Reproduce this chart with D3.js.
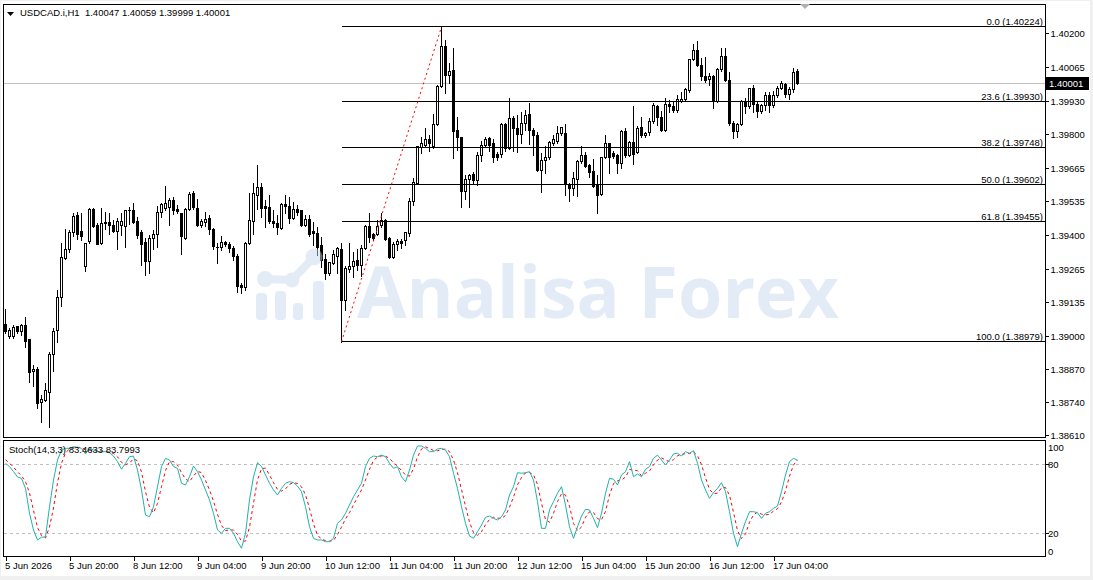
<!DOCTYPE html>
<html><head><meta charset="utf-8">
<script src="https://cdn.jsdelivr.net/npm/d3@7/dist/d3.min.js"></script>
<style>
html,body{margin:0;padding:0;background:#fff;overflow:hidden}
svg text{font-family:"Liberation Sans",Arial,sans-serif;font-size:9.5px;fill:#000}
</style></head><body>
<svg id="chart" width="1093" height="580"></svg>
<script>
// ---------------- data ----------------
const symbolTitle = "USDCAD.i,H1  1.40047 1.40059 1.39999 1.40001";
const stochTitle = "Stoch(14,3,3) 83.4633 83.7993";

const opens = [1.39048,1.39001,1.38999,1.39039,1.39018,1.39042,1.38986,1.38860,1.38871,1.38739,1.38748,1.38779,1.38930,1.39022,1.39155,1.39309,1.39342,1.39410,1.39480,1.39414,
1.39278,1.39374,1.39502,1.39440,1.39368,1.39447,1.39450,1.39440,1.39414,1.39440,1.39434,1.39496,1.39497,1.39454,1.39410,1.39370,1.39295,1.39388,1.39405,1.39489,
1.39506,1.39511,1.39539,1.39500,1.39487,1.39388,1.39502,1.39566,1.39506,1.39440,1.39452,1.39467,1.39424,1.39353,1.39352,1.39372,1.39365,1.39348,1.39315,1.39200,
1.39193,1.39368,1.39454,1.39559,1.39590,1.39513,1.39511,1.39456,1.39447,1.39428,1.39522,1.39513,1.39467,1.39500,1.39497,1.39440,1.39463,1.39414,1.39408,1.39358,
1.39305,1.39250,1.39289,1.39315,1.39345,1.39141,1.39263,1.39278,1.39299,1.39282,1.39348,1.39436,1.39405,1.39405,1.39440,1.39460,1.39388,1.39313,1.39365,1.39377,
1.39381,1.39408,1.39533,1.39606,1.39746,1.39757,1.39777,1.39753,1.39840,1.39990,1.40148,1.40030,1.40051,1.39814,1.39787,1.39572,1.39621,1.39642,1.39616,1.39714,
1.39757,1.39784,1.39761,1.39721,1.39721,1.39840,1.39744,1.39863,1.39823,1.39797,1.39843,1.39876,1.39816,1.39793,1.39658,1.39695,1.39708,1.39764,1.39770,1.39801,
1.39803,1.39599,1.39586,1.39621,1.39691,1.39714,1.39674,1.39651,1.39595,1.39563,1.39708,1.39761,1.39724,1.39714,1.39685,1.39810,1.39717,1.39766,1.39727,1.39827,
1.39793,1.39806,1.39849,1.39911,1.39864,1.39816,1.39917,1.39909,1.39893,1.39931,1.39935,1.39973,1.40096,1.40131,1.40073,1.40029,1.40017,1.40026,1.39929,1.40054,
1.40109,1.40014,1.39842,1.39810,1.39838,1.39928,1.39909,1.39979,1.39917,1.39888,1.39915,1.39951,1.39913,1.39951,1.39981,1.39998,1.39958,1.39975,1.40047];

const highs = [1.39107,1.39032,1.39045,1.39042,1.39048,1.39078,1.38990,1.38887,1.38878,1.38768,1.38817,1.38939,1.39032,1.39184,1.39370,1.39423,1.39421,1.39487,1.39493,1.39489,
1.39370,1.39506,1.39506,1.39447,1.39506,1.39493,1.39487,1.39460,1.39469,1.39487,1.39500,1.39511,1.39526,1.39473,1.39421,1.39388,1.39401,1.39421,1.39516,1.39529,
1.39595,1.39546,1.39550,1.39520,1.39489,1.39506,1.39572,1.39576,1.39542,1.39463,1.39493,1.39480,1.39428,1.39368,1.39397,1.39377,1.39374,1.39358,1.39325,1.39210,
1.39374,1.39566,1.39606,1.39678,1.39606,1.39539,1.39559,1.39500,1.39480,1.39526,1.39559,1.39553,1.39533,1.39520,1.39500,1.39480,1.39480,1.39454,1.39432,1.39394,
1.39326,1.39295,1.39342,1.39352,1.39368,1.39278,1.39368,1.39335,1.39345,1.39361,1.39440,1.39489,1.39410,1.39460,1.39489,1.39463,1.39394,1.39374,1.39384,1.39384,
1.39414,1.39546,1.39625,1.39753,1.39790,1.39823,1.39797,1.39880,1.39994,1.40224,1.40172,1.40083,1.40139,1.39867,1.39790,1.39638,1.39642,1.39651,1.39731,1.39774,
1.39790,1.39790,1.39780,1.39731,1.39843,1.39843,1.39942,1.39872,1.39876,1.39889,1.39895,1.39924,1.39823,1.39810,1.39727,1.39753,1.39774,1.39797,1.39832,1.39829,
1.39840,1.39606,1.39651,1.39698,1.39753,1.39731,1.39682,1.39700,1.39638,1.39711,1.39797,1.39764,1.39734,1.39721,1.39816,1.39823,1.39774,1.39911,1.39832,1.39869,
1.39810,1.39863,1.39924,1.39915,1.39891,1.39942,1.39935,1.39927,1.39955,1.39967,1.39982,1.40097,1.40155,1.40168,1.40102,1.40106,1.40041,1.40034,1.40060,1.40142,
1.40142,1.40045,1.39852,1.39843,1.39935,1.39942,1.39982,1.39994,1.39928,1.39919,1.39968,1.39968,1.39971,1.39990,1.40010,1.40001,1.39988,1.40060,1.40059];

const lows = [1.39012,1.38992,1.38995,1.39014,1.39006,1.38957,1.38821,1.38802,1.38715,1.38662,1.38745,1.38642,1.38864,1.38979,1.39120,1.39305,1.39335,1.39397,1.39385,1.39381,
1.39260,1.39370,1.39433,1.39365,1.39365,1.39424,1.39405,1.39411,1.39345,1.39401,1.39355,1.39445,1.39447,1.39388,1.39282,1.39243,1.39250,1.39345,1.39355,1.39471,
1.39500,1.39440,1.39484,1.39489,1.39326,1.39385,1.39500,1.39502,1.39436,1.39433,1.39436,1.39405,1.39345,1.39289,1.39342,1.39358,1.39335,1.39302,1.39177,1.39173,
1.39184,1.39365,1.39405,1.39502,1.39471,1.39433,1.39447,1.39433,1.39405,1.39425,1.39487,1.39447,1.39463,1.39480,1.39436,1.39436,1.39397,1.39361,1.39322,1.39276,
1.39226,1.39243,1.39286,1.39250,1.38979,1.39104,1.39256,1.39236,1.39263,1.39239,1.39345,1.39374,1.39381,1.39401,1.39433,1.39381,1.39309,1.39309,1.39342,1.39349,
1.39361,1.39397,1.39520,1.39603,1.39724,1.39748,1.39734,1.39744,1.39836,1.39988,1.39964,1.40003,1.39704,1.39737,1.39513,1.39542,1.39511,1.39606,1.39599,1.39695,
1.39753,1.39734,1.39691,1.39698,1.39711,1.39734,1.39740,1.39734,1.39731,1.39766,1.39816,1.39761,1.39717,1.39655,1.39572,1.39647,1.39700,1.39757,1.39766,1.39797,
1.39559,1.39537,1.39559,1.39555,1.39685,1.39669,1.39632,1.39589,1.39489,1.39559,1.39704,1.39647,1.39704,1.39647,1.39665,1.39711,1.39714,1.39682,1.39724,1.39790,
1.39790,1.39797,1.39845,1.39836,1.39812,1.39812,1.39888,1.39888,1.39888,1.39927,1.39931,1.39968,1.40093,1.40069,1.40014,1.40006,1.39994,1.39905,1.39927,1.40050,
1.40010,1.39836,1.39786,1.39790,1.39836,1.39882,1.39903,1.39888,1.39869,1.39884,1.39895,1.39889,1.39908,1.39947,1.39979,1.39948,1.39939,1.39965,1.39999];

const closes = [1.39018,1.39025,1.39036,1.39018,1.39042,1.38979,1.38858,1.38871,1.38735,1.38751,1.38785,1.38930,1.39021,1.39155,1.39313,1.39344,1.39410,1.39476,1.39405,1.39394,
1.39368,1.39502,1.39436,1.39365,1.39447,1.39449,1.39438,1.39414,1.39454,1.39454,1.39497,1.39499,1.39450,1.39401,1.39365,1.39295,1.39388,1.39405,1.39489,1.39520,
1.39524,1.39539,1.39497,1.39493,1.39394,1.39502,1.39563,1.39509,1.39440,1.39456,1.39463,1.39424,1.39355,1.39350,1.39372,1.39364,1.39348,1.39315,1.39197,1.39194,
1.39368,1.39458,1.39566,1.39590,1.39506,1.39505,1.39454,1.39447,1.39430,1.39522,1.39513,1.39467,1.39500,1.39489,1.39440,1.39463,1.39405,1.39408,1.39352,1.39302,
1.39250,1.39291,1.39322,1.39348,1.39141,1.39269,1.39278,1.39295,1.39282,1.39348,1.39436,1.39392,1.39388,1.39436,1.39460,1.39385,1.39313,1.39365,1.39377,1.39369,
1.39410,1.39533,1.39608,1.39750,1.39761,1.39777,1.39761,1.39840,1.39990,1.40148,1.40030,1.40047,1.39810,1.39787,1.39572,1.39621,1.39637,1.39616,1.39714,1.39757,
1.39780,1.39757,1.39708,1.39708,1.39840,1.39744,1.39863,1.39823,1.39797,1.39843,1.39872,1.39814,1.39793,1.39658,1.39695,1.39708,1.39766,1.39777,1.39801,1.39827,
1.39599,1.39586,1.39625,1.39691,1.39714,1.39671,1.39647,1.39592,1.39559,1.39708,1.39761,1.39708,1.39711,1.39682,1.39810,1.39717,1.39766,1.39721,1.39823,1.39793,
1.39803,1.39849,1.39915,1.39867,1.39816,1.39918,1.39909,1.39893,1.39935,1.39938,1.39975,1.40096,1.40132,1.40073,1.40027,1.40011,1.40026,1.39929,1.40056,1.40109,
1.40014,1.39842,1.39810,1.39838,1.39928,1.39909,1.39979,1.39917,1.39890,1.39915,1.39951,1.39913,1.39951,1.39981,1.40001,1.39955,1.39975,1.40045,1.40001];

// Stochastic %K (main) and %D (signal), read from the sub-window
const stochK = [80.9,78,73.6,69,67.8,59,37.4,22.9,14.2,16.5,17,43,66.3,83.7,92.4,93.9,93.9,95.3,94.8,93.9,
89,94,92.4,91,91,91,90,87.2,82.3,75.7,80.9,86.6,87.2,75,57.7,35.9,34.4,43,60.5,78,
85.2,83.7,78,76.5,63.5,62,69.2,78.5,73.6,66.3,57.7,49,37.4,22.9,20,24.3,24.3,20,12.7,7,
20,49,69.2,81.4,78,70.7,63.5,57.7,53.3,59.1,63.5,64.9,64,61.1,56.2,43.1,25.7,15.6,14.2,14.2,
12.7,12.7,15.6,28.7,31.6,37.4,44.6,51.8,57.7,63.5,78,85.2,87.2,86.6,88,86.6,80.9,76.5,78,69.2,
64.9,75,88,95.9,95.9,93.9,91,91,93.3,93.9,92.4,86.6,72.2,59.1,43.1,28.7,17.7,15.6,21.4,27.2,
33.9,35,33,31.6,34.4,40.3,53.3,60.5,72.7,72.2,72.7,73.6,66.3,47.5,24.3,24.3,40.3,47.5,54.8,60.5,
44.6,25.7,15.6,25.7,35,40.9,40.3,33,24.9,37.4,54.8,67.8,67,62,70.7,73.6,82.3,69.2,71.6,69.2,
75.7,78,85.2,88,83.7,79.4,83.7,89,89.6,87.2,91,89.6,91.8,80.9,66.3,57.7,50.4,55.3,59.1,64,
56.2,38.8,20,8.3,20,30.1,38.8,38.8,37.9,33,37.4,38.8,41.7,43.7,56.2,70.7,82.3,85.2,83.46];

const stochD = [84,81,77.5,73.5,70,65,55,40,25,18,16,25.5,42,64,80.8,90,93.4,94.4,94.7,94.7,
92.6,92.3,91.8,92.5,91.5,91,90.7,89.4,86.5,81.7,79.6,81,84.9,83,73.3,56.2,42.7,37.8,46,60.5,
74.6,82.3,82.3,79.4,72.7,67.3,64.9,69.9,73.8,72.8,65.9,57.7,48,36.4,26.8,22.4,22.9,22.9,19,13.2,
13.2,25.3,46.1,66.5,76.2,76.7,70.7,64,58.2,56.7,58.6,62.5,64.1,63.3,60.4,53.5,41.7,28.1,18.5,14.7,
13.7,13.2,13.7,19,25.3,32.6,37.9,44.6,51.4,57.7,66.4,75.6,83.5,86.3,87.3,87.1,85.2,81.3,78.5,74.6,
70.7,69.7,76,86.3,93.3,95.2,93.6,92,91.8,92.7,93.2,91,83.7,72.6,58.1,43.6,29.8,20.7,18.2,21.4,
27.5,32,34,33.2,33,35.4,42.7,51.4,62.2,68.5,72.5,72.8,70.9,62.5,46,32,29.6,37.4,47.5,54.3,
53.3,43.6,28.6,22.3,25.4,33.9,38.7,38.1,32.7,31.8,39,53.3,63.2,65.6,66.6,68.8,75.5,75,74.4,70,
72.2,74.3,79.6,83.7,85.6,83.7,82.3,84,87.4,88.6,89.3,89.3,90.8,87.4,79.7,68.3,58.1,54.5,54.9,59.5,
59.8,53,38.3,22.4,15.4,19.5,29.6,35.9,38.5,36.6,36.1,36.4,39.3,41.4,47.2,56.9,69.7,79.4,83.8];

const timeTickIndex = [0,16,32,48,64,80,96,112,128,144,160,176,192];
const timeTickLabels = ["5 Jun 2026","5 Jun 20:00","8 Jun 12:00","9 Jun 04:00","9 Jun 20:00","10 Jun 12:00",
  "11 Jun 04:00","11 Jun 20:00","12 Jun 12:00","15 Jun 04:00","15 Jun 20:00","16 Jun 12:00","17 Jun 04:00"];
const priceTicks = [1.40200,1.40065,1.39930,1.39800,1.39665,1.39535,1.39400,1.39265,1.39135,1.39000,1.38870,1.38740,1.38610];
const stochTicks = [100,80,20,0];
const stochLevels = [80,20];
const fibLevels = [0.0,23.6,38.2,50.0,61.8,100.0];
const fibLowIndex = 84, fibHighIndex = 109;
const fibLow = 1.38979, fibHigh = 1.40224;
const lastPrice = 1.40001;
const watermarkText = "Analisa Forex";

// ---------------- layout ----------------
const W = 1093, H = 580;
const L = 3.5, R = 1045.5, mainTop = 4.5, mainBottom = 437.5, subTop = 440.5, subBottom = 556.5;
const n = opens.length;

const x = d3.scaleLinear().domain([0, n - 1]).range([5.5, 5.5 + 4 * (n - 1)]);
const y = d3.scaleLinear().domain([1.38610, 1.40200]).range([435, 33]);
const ys = d3.scaleLinear().domain([0, 100]).range([556.3, 441.3]);
const snap = v => Math.round(v - 0.5) + 0.5;

const svg = d3.select("#chart");
svg.append("rect").attr("width", W).attr("height", H).attr("fill", "#f0f0f0");
svg.append("rect").attr("x", 1).attr("y", 1).attr("width", 1089).attr("height", 575).attr("fill", "#fff");

const defs = svg.append("defs");
defs.append("clipPath").attr("id", "mainClip").append("rect")
  .attr("x", L).attr("y", mainTop).attr("width", R - L).attr("height", mainBottom - mainTop);
defs.append("clipPath").attr("id", "subClip").append("rect")
  .attr("x", L).attr("y", subTop).attr("width", R - L).attr("height", subBottom - subTop);

const main = svg.append("g").attr("clip-path", "url(#mainClip)").attr("shape-rendering", "crispEdges");

// current price line
main.append("line").attr("x1", L).attr("x2", R).attr("y1", snap(y(lastPrice))).attr("y2", snap(y(lastPrice)))
  .attr("stroke", "#c0c0c0");

// fibonacci levels
const fibPrice = lv => fibHigh - (fibHigh - fibLow) * lv / 100;
const fg = svg.append("g");
fibLevels.forEach(lv => {
  const py = snap(y(fibPrice(lv)));
  fg.append("line").attr("x1", x(fibLowIndex)).attr("x2", R).attr("y1", py).attr("y2", py)
    .attr("stroke", "#000").attr("shape-rendering", "crispEdges");
  fg.append("text").attr("x", 1043).attr("y", py - 2).attr("text-anchor", "end")
    .text(lv.toFixed(1) + " (" + fibPrice(lv).toFixed(5) + ")");
});
fg.append("line").attr("x1", x(fibLowIndex)).attr("y1", y(fibLow)).attr("x2", x(fibHighIndex)).attr("y2", y(fibHigh))
  .attr("stroke", "#ff0000").attr("stroke-dasharray", "2,3");

// candles
const idx = d3.range(n);
main.selectAll("line.wick").data(idx).join("line").attr("class", "wick")
  .attr("x1", i => x(i)).attr("x2", i => x(i))
  .attr("y1", i => Math.round(y(highs[i]))).attr("y2", i => Math.round(y(lows[i])) + 1)
  .attr("stroke", "#000");
main.selectAll("rect.body").data(idx).join("rect").attr("class", "body")
  .attr("x", i => x(i) - 1).attr("width", 2)
  .attr("y", i => snap(y(Math.max(opens[i], closes[i]))))
  .attr("height", i => Math.max(0.01, snap(y(Math.min(opens[i], closes[i]))) - snap(y(Math.max(opens[i], closes[i])))))
  .attr("fill", i => closes[i] >= opens[i] ? "#fff" : "#000")
  .attr("stroke", "#000");

// watermark (semi-transparent, above candles)
const wm = svg.append("g").attr("opacity", 0.5).attr("fill", "rgb(200,219,239)");
[[256,293,11,27],[275,291,11,29],[293,303,10,17],[313,281,11,39]].forEach(b =>
  wm.append("rect").attr("x", b[0]).attr("y", b[1]).attr("width", b[2]).attr("height", b[3]).attr("rx", 4));
wm.append("path").attr("d", "M265,279 L292,280 L314,257").attr("fill", "none")
  .attr("stroke", "rgb(200,219,239)").attr("stroke-width", 8).attr("stroke-linejoin", "round");
[[265,279,8],[292,280,7.5],[314,257,8.5]].forEach(c => wm.append("circle").attr("cx", c[0]).attr("cy", c[1]).attr("r", c[2]));
wm.append("text").attr("x", 357).attr("y", 318).text(watermarkText)
  .style("font-family", "'Open Sans',sans-serif").style("font-weight", "700").style("font-size", "72px")
  .style("fill", "rgb(200,219,239)").attr("textLength", 482).attr("lengthAdjust", "spacingAndGlyphs");

// frames
svg.append("rect").attr("x", L).attr("y", mainTop).attr("width", R - L).attr("height", mainBottom - mainTop)
  .attr("fill", "none").attr("stroke", "#000").attr("shape-rendering", "crispEdges");
svg.append("rect").attr("x", L).attr("y", subTop).attr("width", R - L).attr("height", subBottom - subTop)
  .attr("fill", "none").attr("stroke", "#000").attr("shape-rendering", "crispEdges");

// price axis
const pAxis = svg.append("g").attr("transform", `translate(${R},0)`)
  .call(d3.axisRight(y).tickValues(priceTicks).tickFormat(d3.format(".5f")).tickSize(3).tickPadding(2));
pAxis.select(".domain").remove();
pAxis.selectAll("line").attr("stroke", "#000").attr("shape-rendering", "crispEdges");
pAxis.selectAll("text").attr("fill", "#000").style("font-family", "'Liberation Sans',Arial,sans-serif").style("font-size", "9.5px");

// last price label
const lp = snap(y(lastPrice));
svg.append("rect").attr("x", 1046).attr("y", lp - 6.5).attr("width", 43).attr("height", 13).attr("fill", "#000");
svg.append("text").attr("x", 1049).attr("y", lp + 3.5).attr("fill", "#fff").style("fill", "#fff").text(lastPrice.toFixed(5));

// title
svg.append("path").attr("d", "M7,12 L14,12 L10.5,16 Z").attr("fill", "#000");
svg.append("text").attr("x", 20).attr("y", 16).text(symbolTitle).style("white-space", "pre").attr("xml:space", "preserve");
// chart shift marker
svg.append("path").attr("d", "M800,4 L810,4 L805,9 Z").attr("fill", "#b0b0b0");

// stochastic sub-window
const sub = svg.append("g").attr("clip-path", "url(#subClip)");
stochLevels.forEach(lv => sub.append("line").attr("x1", L).attr("x2", R)
  .attr("y1", snap(ys(lv))).attr("y2", snap(ys(lv))).attr("stroke", "#c0c0c0").attr("stroke-dasharray", "3,3")
  .attr("shape-rendering", "crispEdges"));
const lineK = d3.line().x((d, i) => x(i)).y(d => ys(d));
sub.append("path").datum(stochD).attr("d", lineK).attr("fill", "none").attr("stroke", "#ff0000").attr("stroke-dasharray", "3,3");
sub.append("path").datum(stochK).attr("d", lineK).attr("fill", "none").attr("stroke", "#20b2aa");
svg.append("text").attr("x", 9).attr("y", 453).text(stochTitle);

stochTicks.forEach(v => {
  const ty = Math.min(551, Math.max(447, ys(v)));
  if (v === 80 || v === 20) svg.append("line").attr("x1", R).attr("x2", R + 3).attr("y1", snap(ys(v))).attr("y2", snap(ys(v)))
    .attr("stroke", "#000").attr("shape-rendering", "crispEdges");
  svg.append("text").attr("x", 1048).attr("y", ty + 3.5).text(v);
});

// time axis
const tAxis = svg.append("g").attr("transform", `translate(0,${subBottom})`)
  .call(d3.axisBottom(x).tickValues(timeTickIndex).tickFormat((d, k) => timeTickLabels[k]).tickSize(4).tickPadding(2));
tAxis.select(".domain").remove();
tAxis.selectAll("line").attr("stroke", "#000").attr("shape-rendering", "crispEdges");
tAxis.selectAll("text").attr("text-anchor", "start").attr("dx", "-1").attr("fill", "#000")
  .style("font-family", "'Liberation Sans',Arial,sans-serif").style("font-size", "9.5px");
</script>
</body></html>
